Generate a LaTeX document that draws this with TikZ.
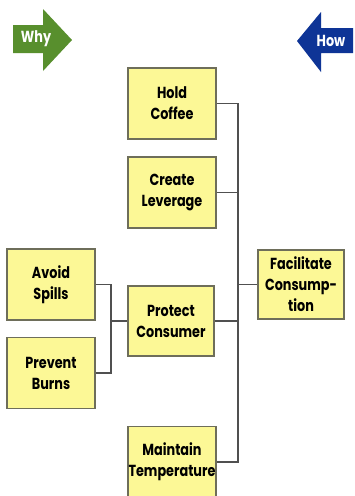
\documentclass[tikz,border=0pt]{standalone}
\usepackage{fontspec}
\setmainfont{Poppins}[FakeStretch=0.8]
\begin{document}
\begin{tikzpicture}[x=1pt,y=-1pt,
  box/.style={draw=boxline,fill=boxfill,line width=1.1pt,minimum width=88pt,minimum height=71pt,
    align=center,inner sep=0pt,font=\fontsize{16}{21}\selectfont\bfseries,text=black},
  conn/.style={draw=connline,line width=1.1pt},
  arrowtxt/.style={text=white,font=\fontsize{16}{17}\selectfont\bfseries}]
\definecolor{boxfill}{RGB}{252,248,150}
\definecolor{boxline}{RGB}{110,110,90}
\definecolor{connline}{RGB}{80,80,80}
\definecolor{whygreen}{RGB}{88,143,45}
\definecolor{howblue}{RGB}{14,52,150}
\useasboundingbox (0,0) rectangle (355,496);
\fill[white] (0,0) rectangle (355,496);
% Why arrow
\fill[whygreen] (13,25) -- (43,25) -- (43,9) -- (72,40) -- (43,71) -- (43,53) -- (13,53) -- cycle;
\node[arrowtxt] (why) at (36,39) {Why};
% How arrow
\fill[howblue] (353,28) -- (321,28) -- (321,12) -- (297,41) -- (321,72) -- (321,53) -- (353,53) -- cycle;
\node[arrowtxt] (how) at (331,41) {How};
% boxes
\node[box] (hold) at (172,103.5) {Hold\\Coffee};
\node[box] (lever) at (172,192.5) {Create\\Leverage};
\node[box] (avoid) at (51,284.5) {Avoid\\Spills};
\node[box] (prevent) at (51,373) {Prevent\\Burns};
\node[box,minimum width=86pt,minimum height=70pt] (protect) at (171,321) {Protect\\Consumer};
\node[box] (maint) at (172,462) {Maintain\\Temperature};
\node[box,minimum width=86pt,minimum height=69pt] (facil) at (301,284.5) {Facilitate\\Consump-\\tion};
% connectors
\coordinate (ttop) at (238,103.5);
\coordinate (tbot) at (238,462);
\coordinate (lmid) at (111,321);
\draw[conn] (hold.east) -- (ttop) -- (tbot) -- (maint.east);
\draw[conn] (lever.east) -- (lever.east -| ttop);
\draw[conn] (protect.east) -- (protect.east -| ttop);
\draw[conn] (ttop |- facil.west) -- (facil.west);
\draw[conn] (avoid.east) -| (lmid) |- (prevent.east);
\draw[conn] (lmid) -- (protect.west);
\end{tikzpicture}
\end{document}
